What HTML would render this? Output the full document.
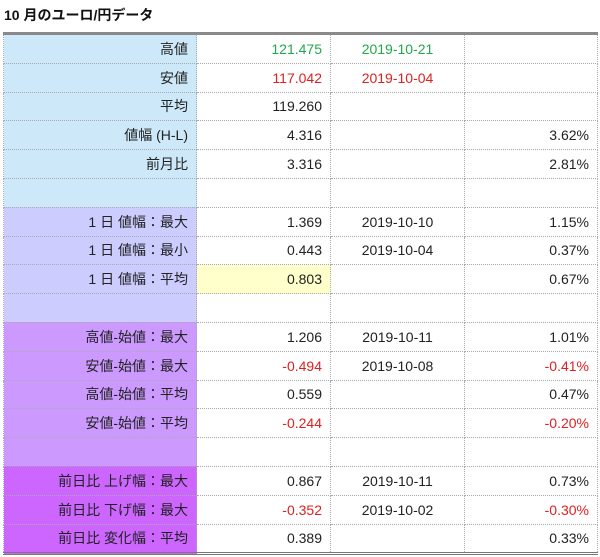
<!DOCTYPE html>
<html><head><meta charset="utf-8"><style>
body{margin:0;background:#fff;width:600px;height:557px;overflow:hidden;font-family:"Liberation Sans","Noto Sans CJK JP",sans-serif;}
#title{position:absolute;left:4px;top:5px;font-size:14px;font-weight:bold;color:#111;}
table{position:absolute;left:3px;top:32px;border-collapse:collapse;border-top:3px solid #8a8a8a;border-bottom:3px double #777;}
td{height:27.8px;padding:0 8px;font-size:14px;text-align:right;border:1px dotted #aaa;color:#222;white-space:nowrap;}
td.l{width:176px;}
td.c2{width:117px;}td.c3{width:117px;text-align:center;}td.c4{width:116px;}
.b td.l{background:#cde9f9;}
.v td.l{background:#ccccff;}
.p td.l{background:#cc99ff;}
.m td.l{background:#cc66ff;}
.g{color:#22a84a;}.r{color:#e02020;}
.y{background:#ffffcc;}
</style></head><body>
<div id="title">10 月のユーロ/円データ</div>
<table>
<tr class="b"><td class="l">高値</td><td class="c2 g">121.475</td><td class="c3 g">2019-10-21</td><td class="c4"></td></tr>
<tr class="b"><td class="l">安値</td><td class="c2 r">117.042</td><td class="c3 r">2019-10-04</td><td class="c4"></td></tr>
<tr class="b"><td class="l">平均</td><td class="c2">119.260</td><td class="c3"></td><td class="c4"></td></tr>
<tr class="b"><td class="l">値幅 (H-L)</td><td class="c2">4.316</td><td class="c3"></td><td class="c4">3.62%</td></tr>
<tr class="b"><td class="l">前月比</td><td class="c2">3.316</td><td class="c3"></td><td class="c4">2.81%</td></tr>
<tr class="b"><td class="l"></td><td class="c2"></td><td class="c3"></td><td class="c4"></td></tr>
<tr class="v"><td class="l">1 日 値幅：最大</td><td class="c2">1.369</td><td class="c3">2019-10-10</td><td class="c4">1.15%</td></tr>
<tr class="v"><td class="l">1 日 値幅：最小</td><td class="c2">0.443</td><td class="c3">2019-10-04</td><td class="c4">0.37%</td></tr>
<tr class="v"><td class="l">1 日 値幅：平均</td><td class="c2 y">0.803</td><td class="c3"></td><td class="c4">0.67%</td></tr>
<tr class="v"><td class="l"></td><td class="c2"></td><td class="c3"></td><td class="c4"></td></tr>
<tr class="p"><td class="l">高値-始値：最大</td><td class="c2">1.206</td><td class="c3">2019-10-11</td><td class="c4">1.01%</td></tr>
<tr class="p"><td class="l">安値-始値：最大</td><td class="c2 r">-0.494</td><td class="c3">2019-10-08</td><td class="c4 r">-0.41%</td></tr>
<tr class="p"><td class="l">高値-始値：平均</td><td class="c2">0.559</td><td class="c3"></td><td class="c4">0.47%</td></tr>
<tr class="p"><td class="l">安値-始値：平均</td><td class="c2 r">-0.244</td><td class="c3"></td><td class="c4 r">-0.20%</td></tr>
<tr class="p"><td class="l"></td><td class="c2"></td><td class="c3"></td><td class="c4"></td></tr>
<tr class="m"><td class="l">前日比 上げ幅：最大</td><td class="c2">0.867</td><td class="c3">2019-10-11</td><td class="c4">0.73%</td></tr>
<tr class="m"><td class="l">前日比 下げ幅：最大</td><td class="c2 r">-0.352</td><td class="c3">2019-10-02</td><td class="c4 r">-0.30%</td></tr>
<tr class="m"><td class="l">前日比 変化幅：平均</td><td class="c2">0.389</td><td class="c3"></td><td class="c4">0.33%</td></tr>
</table>
</body></html>
